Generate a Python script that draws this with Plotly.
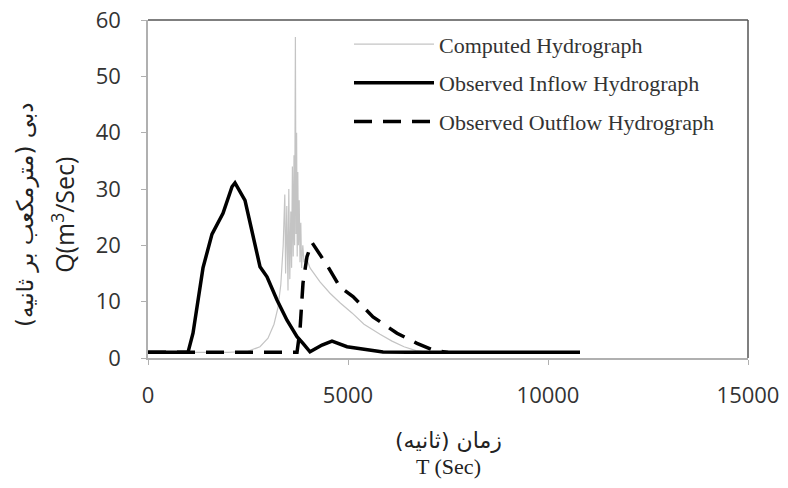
import plotly.graph_objects as go

# ---- data ----
computed_t = [0, 1000, 2000, 2500, 2800, 3000, 3150, 3250, 3320, 3380, 3420, 3440, 3470, 3500,
              3520, 3545, 3570, 3590, 3610, 3630, 3650, 3665, 3685, 3700, 3715, 3730, 3745,
              3760, 3780, 3800, 3820, 3840, 3870, 3900, 3950, 4050, 4300, 4550, 4800, 5100,
              5400, 5800, 6100, 6400, 6700, 7000]
computed_q = [1, 1, 1, 1.2, 2, 3.5, 6, 9, 13, 20, 29, 15, 27, 12,
              30, 14, 26, 16, 34, 18, 36, 20, 57, 22, 40, 18, 33,
              20, 28, 17, 24, 16, 20, 17, 18, 16, 13.5, 11.5, 9.8, 8,
              6, 4.2, 3, 2, 1.3, 1]

inflow_t = [0, 1000, 1125, 1375, 1600, 1875, 2100, 2175, 2425, 2625, 2800, 2975, 3225,
            3475, 3725, 3875, 4050, 4350, 4600, 4975, 5475, 5875, 6500, 10800]
inflow_q = [1, 1, 4.4, 16, 22, 25.7, 30.4, 31.1, 28, 22, 16.2, 14.4, 10.3,
            6.7, 3.8, 2.6, 1.1, 2.3, 3.0, 2.0, 1.4, 1.05, 1, 1]

outflow_t = [0, 1000, 2000, 3000, 3725, 3800, 3875, 3975, 4100, 4500, 4800, 5125, 5625,
             6225, 6725, 7125, 7500]
outflow_q = [1, 1, 1, 1, 1, 5, 13.3, 18, 20.5, 16.2, 12.6, 10.9, 7.3,
             4.4, 2.6, 1.4, 1]

x_ticks = [0, 5000, 10000, 15000]
y_ticks = [0, 10, 20, 30, 40, 50, 60]

names = ["Computed Hydrograph", "Observed Inflow Hydrograph", "Observed Outflow Hydrograph"]

fig = go.Figure()
fig.add_trace(go.Scatter(x=computed_t, y=computed_q, mode="lines", name=names[0],
                         legendgroup="a", line=dict(color="#c4c4c4", width=1.2)))
fig.add_trace(go.Scatter(x=inflow_t, y=inflow_q, mode="lines", name=names[1],
                         legendgroup="b", line=dict(color="#000000", width=3.5)))
fig.add_trace(go.Scatter(x=outflow_t, y=outflow_q, mode="lines", name=names[2],
                         legendgroup="c", line=dict(color="#000000", width=3.5, dash="18px,11px")))

axis_common = dict(showgrid=False, zeroline=False, showline=True, linecolor="#b0b0b0",
                   linewidth=1.5, ticks="outside", ticklen=5, tickcolor="#b0b0b0",
                   automargin=False, ticklabeloverflow="allow",
                   tickfont=dict(family="Open Sans", size=22, color="#333333"))

fig.update_xaxes(range=[0, 15000], tickvals=x_ticks, ticktext=[str(v) for v in x_ticks],
                 ticklabelstandoff=12, **axis_common)
fig.update_yaxes(range=[0, 60], tickvals=y_ticks, ticktext=[str(v) for v in y_ticks],
                 ticklabelstandoff=16, **axis_common)

# plot-area border (top and right)
fig.add_shape(type="line", xref="paper", yref="paper", x0=0, x1=1, y0=1, y1=1,
              line=dict(color="#555555", width=1.5))
fig.add_shape(type="line", xref="paper", yref="paper", x0=1, x1=1, y0=0, y1=1,
              line=dict(color="#555555", width=1.5))

# axis titles
fig.add_annotation(text="دبی (مترمکعب بر ثانیه)", xref="paper", yref="paper",
                   x=-0.205, y=0.423, xanchor="center", yanchor="middle",
                   textangle=-90, showarrow=False,
                   font=dict(family="DejaVu Sans", size=23, color="#222222"))
fig.add_annotation(text="Q(m<sup>3</sup>/Sec)", xref="paper", yref="paper",
                   x=-0.142, y=0.423, xanchor="center", yanchor="middle",
                   textangle=-90, showarrow=False,
                   font=dict(family="Open Sans", size=25, color="#222222"))
fig.add_annotation(text="زمان (ثانیه)", xref="paper", yref="paper",
                   x=0.5, y=-0.243, xanchor="center", yanchor="middle", showarrow=False,
                   font=dict(family="DejaVu Sans", size=22, color="#222222"))
fig.add_annotation(text="T (Sec)", xref="paper", yref="paper",
                   x=0.5, y=-0.322, xanchor="center", yanchor="middle", showarrow=False,
                   font=dict(family="Liberation Serif", size=22, color="#222222"))

fig.update_layout(
    width=788, height=488,
    margin=dict(l=148, r=40, t=20, b=130),
    paper_bgcolor="white", plot_bgcolor="white",
    showlegend=True,
    legend=dict(x=0.335, y=0.99, xanchor="left", yanchor="top",
                bgcolor="rgba(0,0,0,0)", itemwidth=80, traceorder="grouped",
                tracegroupgap=7,
                font=dict(family="Liberation Serif", size=22, color="#333333")),
)

# remove the page's default 8px body margin so the figure sits at the window's corner
fig.write_html("out.html", config={"displayModeBar": False},
               post_script="document.body.style.margin='0';document.body.style.overflow='hidden';")
